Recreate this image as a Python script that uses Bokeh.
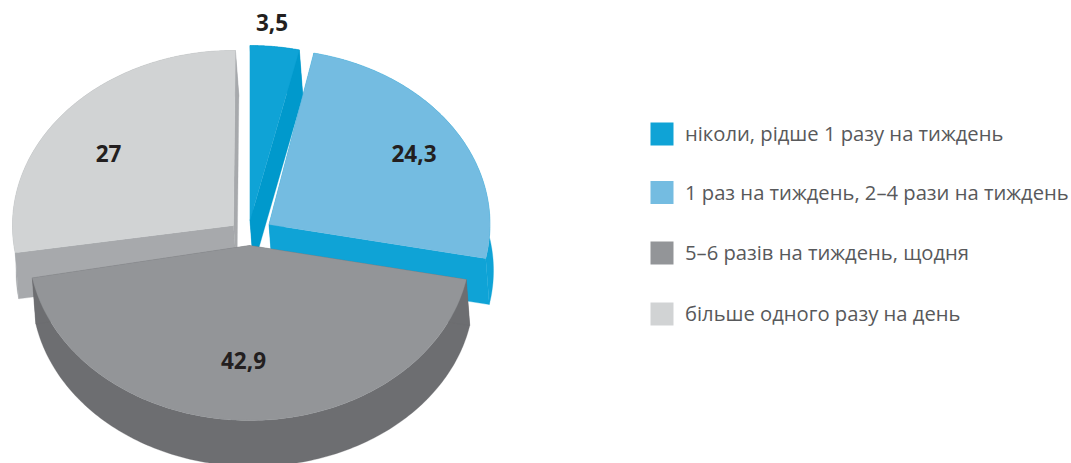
import numpy as np
from bokeh.plotting import figure
from bokeh.core.properties import value
from bokeh.embed import file_html
from bokeh.resources import INLINE

# Data
categories = ["ніколи, рідше 1 разу на тиждень",
              "1 раз на тиждень, 2–4 рази на тиждень",
              "5–6 разів на тиждень, щодня",
              "більше одного разу на день"]
values = [3.5, 24.3, 42.9, 27]
value_labels = ["3,5", "24,3", "42,9", "27"]

# Style and layout (page pixels)
top_colors = ["#0FA3D6", "#74BCE1", "#939598", "#D1D3D4"]
wall_colors = ["#0099CC", "#0FA3D6", "#6D6E71", "#A7A9AC"]
centers = [(249.5, 220), (268.5, 224), (249, 245), (233, 225)]
rotation = [0, -1.2, -1.2, 0.5]
label_pos = [(271.5, 22), (413.5, 152.5), (243, 359.5), (108, 152.5)]
RX, RY = 221, 175
DX, DY = 3.5, 46
legend_x = 650
legend_y = [133.5, 192, 252.5, 313.5]
SW = 23

p = figure(width=1071, height=463, x_range=(0, 1071), y_range=(463, 0),
           toolbar_location=None, output_backend="svg", min_border=0,
           outline_line_color=None)
p.axis.visible = False
p.grid.visible = False

fr = np.array(values) / sum(values) * 360
ends = np.cumsum(fr)
starts = ends - fr

def rim(c, a0, a1):
    t = np.radians(np.linspace(a0, a1, 160))
    return c[0] + RX * np.sin(t), c[1] - RY * np.cos(t)

def poly(xs, ys, color):
    p.patch(list(xs), list(ys), fill_color=color, line_color=color, line_width=0.3)

for i in [0, 1, 3, 2]:
    c = centers[i]
    x, y = rim(c, starts[i] + rotation[i], ends[i] + rotation[i])
    wall = wall_colors[i]
    # outer wall
    poly(np.r_[x, (x + DX)[::-1]], np.r_[y, (y + DY)[::-1]], wall)
    # radial walls
    for (ex, ey) in [(x[0], y[0]), (x[-1], y[-1])]:
        poly([c[0], ex, ex + DX, c[0] + DX], [c[1], ey, ey + DY, c[1] + DY], wall)
    # top face
    poly(np.r_[c[0], x], np.r_[c[1], y], top_colors[i])

for lab, (lx, ly) in zip(value_labels, label_pos):
    p.text([lx], [ly], text=[lab], text_font=value("Open Sans"), text_font_style="bold",
           text_font_size="22.5px", text_color="#231F20", text_align="center",
           text_baseline="middle")

for cat, col, ly in zip(categories, top_colors, legend_y):
    p.quad(left=[legend_x], right=[legend_x + SW], top=[ly - SW / 2], bottom=[ly + SW / 2],
           fill_color=col, line_color=None)
    p.text([legend_x + 34.5], [ly - 1], text=[cat], text_font=value("Open Sans"),
           text_font_size="20.2px", text_color="#58595B", text_align="left",
           text_baseline="middle")

open("out.html", "w").write(file_html(p, INLINE))
